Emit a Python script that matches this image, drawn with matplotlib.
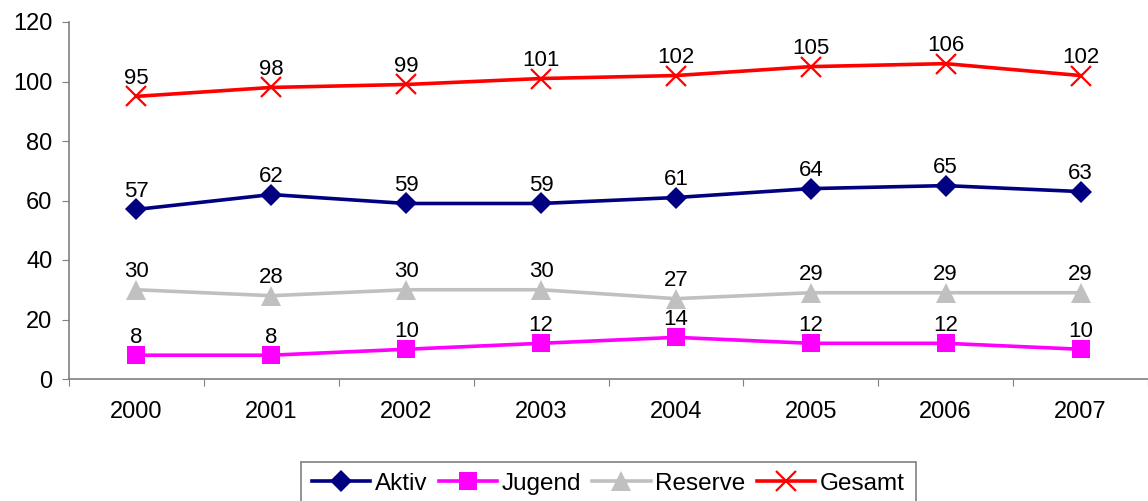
import matplotlib
matplotlib.use("Agg")
import matplotlib.pyplot as plt

plt.rcParams['font.family'] = ['Liberation Sans', 'DejaVu Sans']

years = ['2000', '2001', '2002', '2003', '2004', '2005', '2006', '2007']
aktiv = [57, 62, 59, 59, 61, 64, 65, 63]
jugend = [8, 8, 10, 12, 14, 12, 12, 10]
reserve = [30, 28, 30, 30, 27, 29, 29, 29]
gesamt = [95, 98, 99, 101, 102, 105, 106, 102]

series = [
    ('Aktiv', aktiv, '#000080', 'D', 11.5),
    ('Jugend', jugend, '#FF00FF', 's', 12.5),
    ('Reserve', reserve, '#C0C0C0', '^', 15),
    ('Gesamt', gesamt, '#FF0000', 'x', 15),
]

fig = plt.figure(figsize=(11.48, 5.01), dpi=100)
ax = fig.add_axes([69/1148, 1-379/501, 1-69/1148, (379-22)/501])

x = list(range(len(years)))
for name, vals, col, mk, ms in series:
    kw = dict(markeredgewidth=1.6) if mk == 'x' else dict(markeredgewidth=0)
    ax.plot(x, vals, color=col, lw=2.6, marker=mk, markersize=ms,
            markerfacecolor=col, markeredgecolor=col, label=name, **kw)
    for xi, v in zip(x, vals):
        ax.annotate(str(v), (xi, v), xytext=(0, 9), textcoords='offset points',
                    ha='center', va='baseline', fontsize=16, color='black')

ax.set_ylim(0, 120)
ax.set_yticks(range(0, 121, 20))
ax.set_xlim(-0.5, len(years) - 0.5)
ax.set_xticks([i - 0.5 for i in range(len(years) + 1)])
ax.set_xticklabels([])
ax.set_xticks(x, minor=True)
ax.set_xticklabels(years, minor=True)
ax.tick_params(axis='x', which='major', direction='out', length=5, color='#808080')
ax.tick_params(axis='x', which='minor', length=0, pad=16, labelsize=17)
ax.tick_params(axis='y', direction='out', length=5, color='#808080', labelsize=17, pad=7)

for s in ['top', 'right']:
    ax.spines[s].set_visible(False)
for s in ['left', 'bottom']:
    ax.spines[s].set_color('#808080')
    ax.spines[s].set_linewidth(1.2)

leg = fig.legend(loc='upper left', bbox_to_anchor=(301/1148, 1-462/501), ncol=4,
                 fontsize=17.5, frameon=True, fancybox=False, edgecolor='#606060',
                 handlelength=2.4, handletextpad=0.2, columnspacing=0.45,
                 borderpad=0.45, borderaxespad=0)
leg.get_frame().set_linewidth(1.2)

fig.savefig('out.png', dpi=100)
